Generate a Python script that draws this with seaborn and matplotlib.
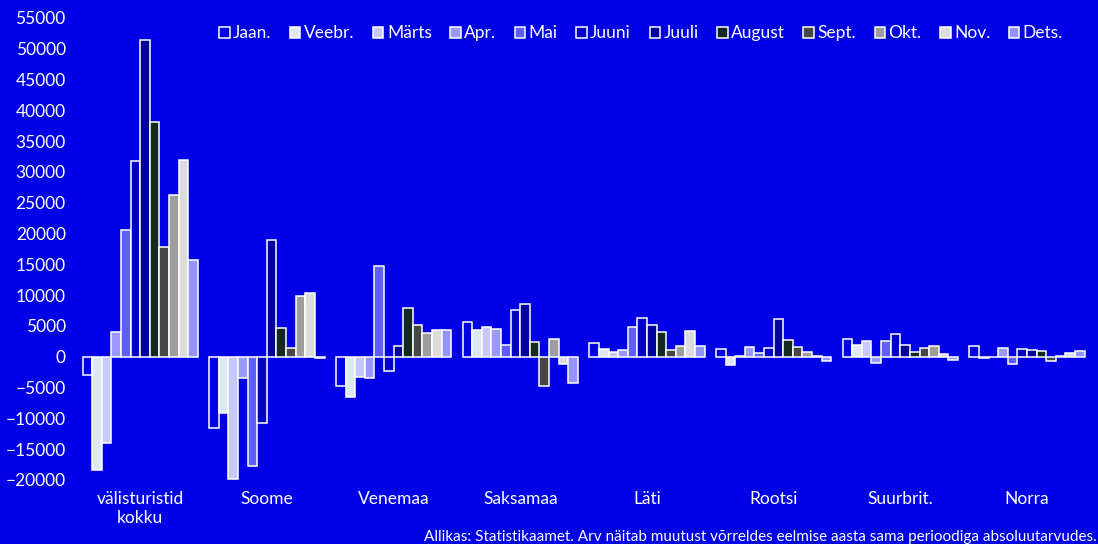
import pandas as pd
import seaborn as sns
import matplotlib.pyplot as plt

countries = ["välisturistid\nkokku", "Soome", "Venemaa", "Saksamaa", "Läti",
             "Rootsi", "Suurbrit.", "Norra"]
months = ["Jaan.", "Veebr.", "Märts", "Apr.", "Mai", "Juuni", "Juuli",
          "August", "Sept.", "Okt.", "Nov.", "Dets."]

# change vs same month previous year, one list per country (Jan..Dec)
kokku    = [-3000, -18400, -14000, 4000, 20500, 31800, 51400, 38100, 17800, 26200, 31900, 15700]
soome    = [-11600, -9100, -19850, -3500, -17700, -10800, 18900, 4650, 1450, 9850, 10400, -300]
venemaa  = [-4700, -6550, -3300, -3500, 14650, -2400, 1800, 7950, 5200, 3800, 4300, 4300]
saksamaa = [5650, 4350, 4850, 4450, 1950, 7500, 8600, 2450, -4700, 2800, -1250, -4300]
lati     = [2200, 1250, 750, 1050, 4750, 6200, 5100, 4000, 1050, 1750, 4150, 1750]
rootsi   = [1200, -1400, 100, 1500, 600, 1400, 6100, 2750, 1500, 800, 100, -750]
suurbrit = [2800, 1850, 2550, -1050, 2500, 3700, 1900, 800, 1450, 1700, 400, -550]
norra    = [1800, -300, -100, 1400, -1250, 1250, 1150, 850, -650, 100, 600, 950]

values = [kokku, soome, venemaa, saksamaa, lati, rootsi, suurbrit, norra]

bg = "#0000e6"
colors = [bg, "#dde9f2", "#c8c8ff", "#9999ff", "#5f5fff", "#0000c8",
          "#00009c", "#132a20", "#474747", "#9d9d9d", "#dcdcdc", "#9494ff"]

rows = []
for c, vals in zip(countries, values):
    for m, v in zip(months, vals):
        rows.append({"maa": c, "kuu": m, "muutus": v})
df = pd.DataFrame(rows)

sns.set_style("white")
plt.rcParams["font.family"] = ["Lato", "DejaVu Sans"]

fig = plt.figure(figsize=(10.98, 5.44), dpi=100, facecolor=bg)
ax = fig.add_axes([0.07, 0.118, 0.923, 0.849])
ax.set_facecolor(bg)

sns.barplot(data=df, x="maa", y="muutus", hue="kuu", order=countries,
            hue_order=months, palette=colors, width=0.91, edgecolor="white",
            linewidth=1.1, saturation=1, ax=ax, errorbar=None)

ax.set_ylim(-20000, 55000)
ax.set_yticks(range(-20000, 55001, 5000))
ax.set_xlim(-0.5, len(countries) - 0.5)
ax.set_xlabel("")
ax.set_ylabel("")
for s in ax.spines.values():
    s.set_visible(False)
ax.tick_params(colors="white", labelsize=12.5, length=0, pad=8)

leg = ax.legend(ncol=12, loc="upper right", bbox_to_anchor=(0.980, 0.999),
                frameon=False, fontsize=12.5, handlelength=0.6,
                handleheight=0.6, handletextpad=0.2, columnspacing=1.07,
                borderaxespad=0)
for t in leg.get_texts():
    t.set_color("white")

fig.text(0.999, 0.0, "Allikas: Statistikaamet. Arv näitab muutust võrreldes "
         "eelmise aasta sama perioodiga absoluutarvudes.",
         ha="right", va="bottom", color="white", fontsize=11)

plt.savefig("out.png", dpi=100, facecolor=bg)
